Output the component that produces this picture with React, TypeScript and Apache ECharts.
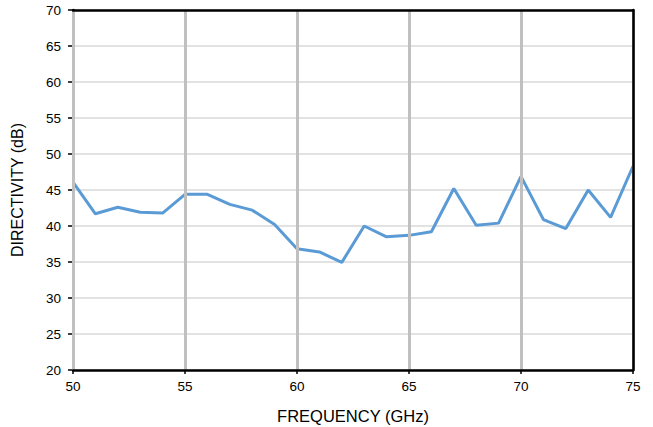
import React, { useEffect, useRef } from "react";
import * as echarts from "echarts";

const frequencies = [50,51,52,53,54,55,56,57,58,59,60,61,62,63,64,65,66,67,68,69,70,71,72,73,74,75];
const directivity = [46.1,41.7,42.6,41.9,41.8,44.4,44.4,43.0,42.2,40.2,36.85,36.4,34.95,40.0,38.5,38.7,39.2,45.2,40.1,40.4,46.9,40.9,39.65,45.0,41.2,48.3];
const xTitle = "FREQUENCY (GHz)";
const yTitle = "DIRECTIVITY (dB)";

export default function App() {
  const ref = useRef<HTMLDivElement>(null);
  useEffect(() => {
    if (!ref.current) return;
    const chart = echarts.init(ref.current, null, { renderer: "svg" });
    const font = "Liberation Sans, Arial, sans-serif";
    const frameAxis = {
      min: 0, max: 1, type: "value",
      axisLine: { show: true, onZero: false, lineStyle: { color: "#000", width: 2.5 } },
      axisTick: { show: false }, axisLabel: { show: false }, splitLine: { show: false },
      z: 5,
    };
    chart.setOption({
      animation: false,
      backgroundColor: "#fff",
      grid: { left: 73, right: 20, top: 10, bottom: 57, outerBoundsMode: "none", containLabel: false },
      xAxis: [{
        type: "value", min: 50, max: 75, interval: 5,
        name: xTitle, nameLocation: "middle", nameGap: 37,
        nameTextStyle: { fontFamily: font, fontSize: 16.5, color: "#000" },
        axisLine: { show: true, onZero: false, lineStyle: { color: "#000", width: 2.5 } },
        axisTick: { show: true, length: 4, lineStyle: { color: "#000", width: 1.5 } },
        axisLabel: { margin: 9, fontFamily: font, fontSize: 13.5, color: "#000" },
        splitLine: { show: true, lineStyle: { color: "#C0C0C0", width: 3 } },
        z: 4,
      }, { ...frameAxis, position: "top" }],
      yAxis: [{
        type: "value", min: 20, max: 70, interval: 5,
        name: yTitle, nameLocation: "middle", nameGap: 48, nameRotate: 90,
        nameTextStyle: { fontFamily: font, fontSize: 16, color: "#000" },
        axisLine: { show: true, onZero: false, lineStyle: { color: "#000", width: 2.5 } },
        axisTick: { show: true, length: 5, lineStyle: { color: "#000", width: 1.5 } },
        axisLabel: { margin: 12, fontFamily: font, fontSize: 13.5, color: "#000" },
        splitLine: { show: true, lineStyle: { color: "#D9D9D9", width: 1.5 } },
      }, { ...frameAxis, position: "right" }],
      series: [{
        type: "line",
        xAxisIndex: 0, yAxisIndex: 0,
        data: frequencies.map((f, i) => [f, directivity[i]]),
        showSymbol: false,
        lineStyle: { color: "#5B9BD5", width: 3 },
        itemStyle: { color: "#5B9BD5" },
        z: 3,
      }],
    });
    return () => chart.dispose();
  }, []);
  return <div ref={ref} style={{ width: 653, height: 427, position: "absolute", left: 0, top: 0 }} />;
}
